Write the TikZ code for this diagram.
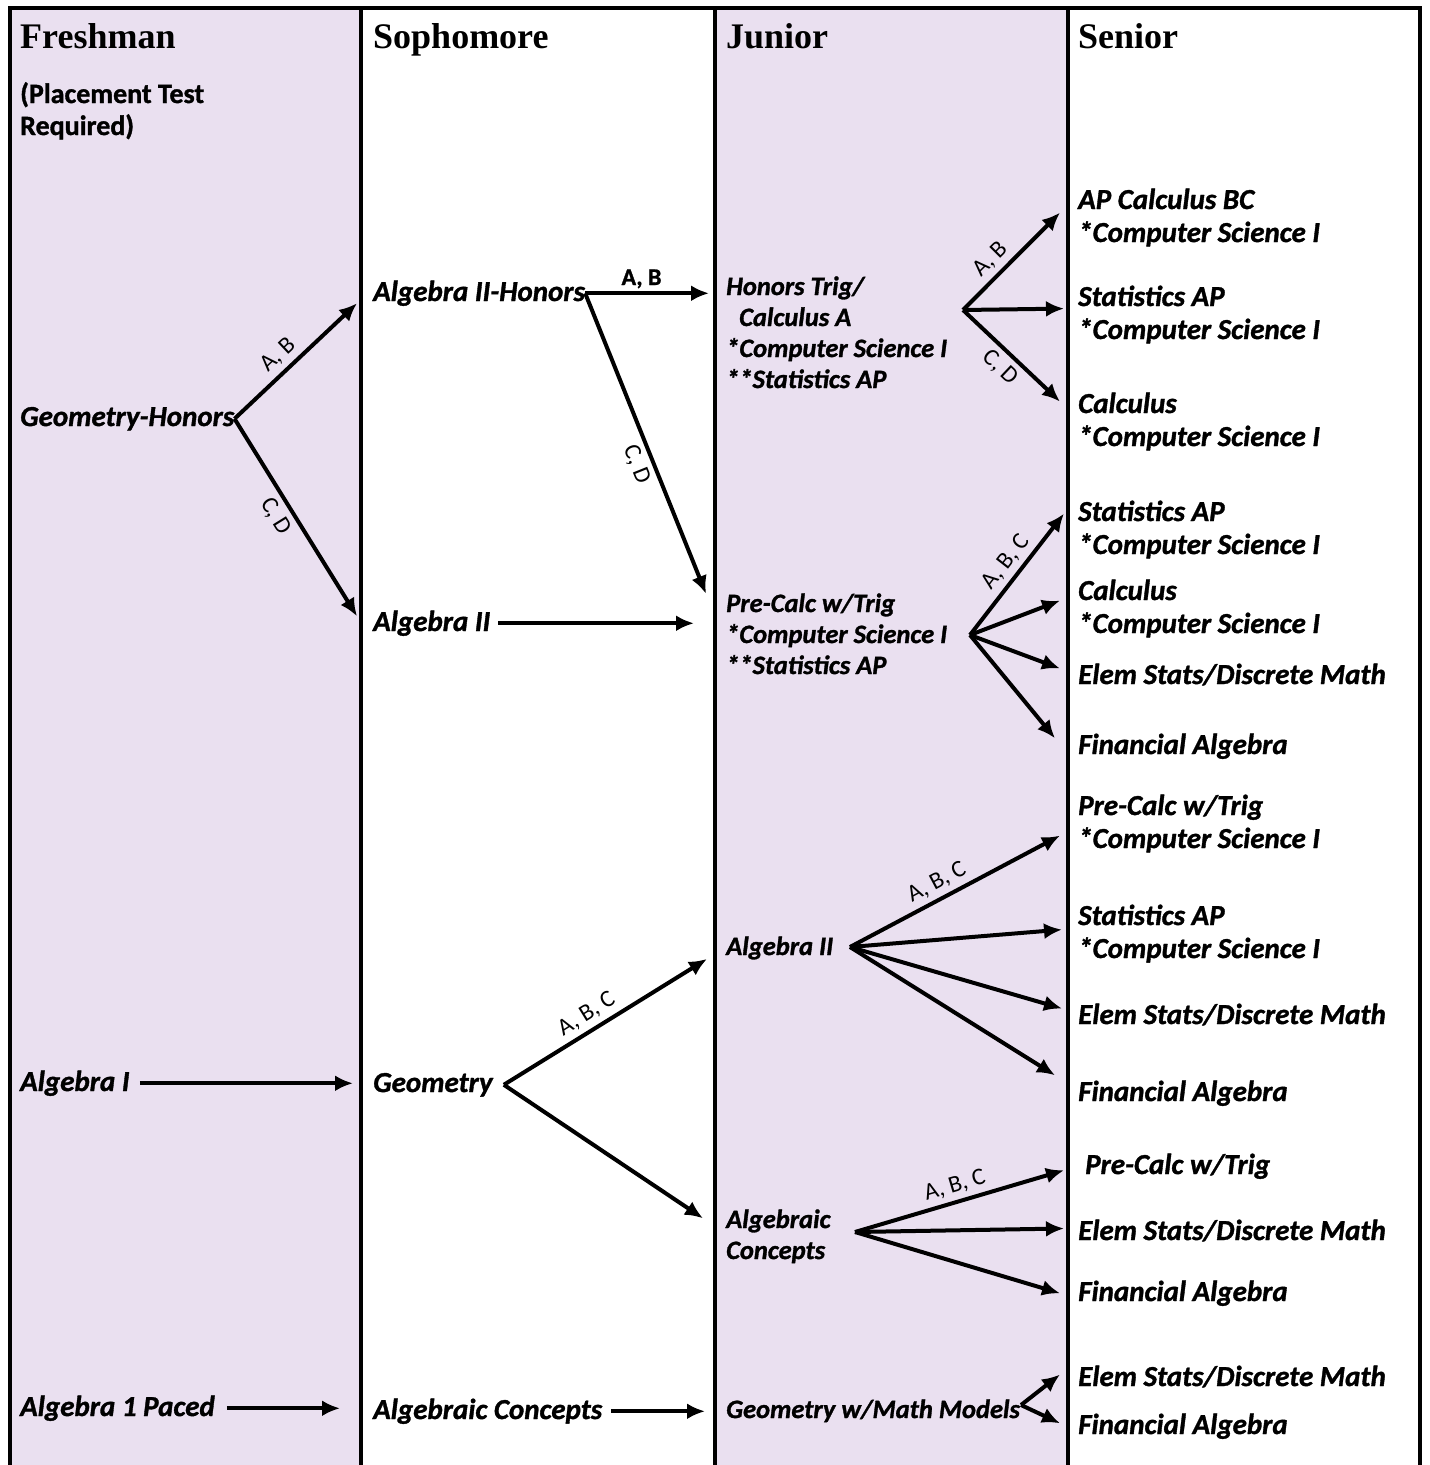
\documentclass[tikz,border=0pt]{standalone}
\usepackage{fontspec}
\setmainfont{Carlito}[BoldFeatures={FakeBold=1.2}, BoldItalicFeatures={FakeBold=1.2}]
\newfontfamily\headfont{Liberation Serif}
\usetikzlibrary{arrows.meta}
\definecolor{lilas}{RGB}{234,224,240}

\begin{document}
\begin{tikzpicture}[x=1pt,y=-1pt]
      \tikzstyle{header}=[anchor=base west, inner sep=0pt, font=\headfont\bfseries\fontsize{36}{40}\selectfont]
      \tikzstyle{course}=[anchor=base west, inner sep=0pt, align=left, font=\bfseries\itshape\fontsize{29}{33}\selectfont]
      \tikzstyle{junior}=[course, font=\bfseries\itshape\fontsize{26.5}{31}\selectfont]
      \tikzstyle{choice}=[font=\fontsize{24}{24}\selectfont, inner sep=5pt]
      \tikzstyle{fleche}=[-{Latex[length=18pt,width=16pt]}, line width=4pt]
      \tikzstyle{column}=[line width=4pt]

      \useasboundingbox (0,0) rectangle (1430,1465);
      \fill[lilas] (10,8) rectangle (361,1465);
      \fill[lilas] (715,8) rectangle (1068,1465);
      \draw[column] (10,1465) -- (10,8) -- (1420,8) -- (1420,1465);
      \draw[column] (361,8) -- (361,1465);
      \draw[column] (715,8) -- (715,1465);
      \draw[column] (1068,8) -- (1068,1465);

      \node[header] (Fresh) at (20,48) {Freshman};
      \node[header] (Soph) at (373,48) {Sophomore};
      \node[header] (Jun) at (726,48) {Junior};
      \node[header] (Sen) at (1078,48) {Senior};
      \node[course, font=\bfseries\fontsize{28}{32}\selectfont] (Place) at (20,135) {(Placement Test\\Required)};

      \node[course] (GeoH) at (20,426) {Geometry-Honors};
      \node[course] (AlgI) at (20,1091) {Algebra I};
      \node[course] (AlgIP) at (20,1416) {Algebra 1 Paced};

      \node[course] (AlgIIH) at (373,301) {Algebra II-Honors};
      \node[course] (AlgII) at (373,631) {Algebra II};
      \node[course] (Geo) at (373,1092) {Geometry};
      \node[course] (AlgC) at (373,1419) {Algebraic Concepts};

      \node[junior] (HTrig) at (726,388) {Honors Trig/\\\hspace*{13pt}Calculus A\\{}*Computer Science I\\{}**Statistics AP};
      \node[junior] (PreC) at (726,674) {Pre-Calc w/Trig\\{}*Computer Science I\\{}**Statistics AP};
      \node[junior] (AlgIIj) at (726,955) {Algebra II};
      \node[junior] (AlgCj) at (726,1259) {Algebraic\\Concepts};
      \node[junior] (GeoMM) at (726,1418) {Geometry w/Math Models};

      \node[course] (Sr1) at (1078,242) {AP Calculus BC\\{}*Computer Science I};
      \node[course] (Sr2) at (1078,339) {Statistics AP\\{}*Computer Science I};
      \node[course] (Sr3) at (1078,446) {Calculus\\{}*Computer Science I};
      \node[course] (Sr4) at (1078,554) {Statistics AP\\{}*Computer Science I};
      \node[course] (Sr5) at (1078,633) {Calculus\\{}*Computer Science I};
      \node[course] (Sr6) at (1078,684) {Elem Stats/Discrete Math};
      \node[course] (Sr7) at (1078,754) {Financial Algebra};
      \node[course] (Sr8) at (1078,848) {Pre-Calc w/Trig\\{}*Computer Science I};
      \node[course] (Sr9) at (1078,958) {Statistics AP\\{}*Computer Science I};
      \node[course] (Sr10) at (1078,1024) {Elem Stats/Discrete Math};
      \node[course] (Sr11) at (1078,1101) {Financial Algebra};
      \node[course] (Sr12) at (1085,1174) {Pre-Calc w/Trig};
      \node[course] (Sr13) at (1078,1240) {Elem Stats/Discrete Math};
      \node[course] (Sr14) at (1078,1301) {Financial Algebra};
      \node[course] (Sr15) at (1078,1386) {Elem Stats/Discrete Math};
      \node[course] (Sr16) at (1078,1434) {Financial Algebra};

      % freshman year
      \draw[fleche] (GeoH.east) -- node[choice, sloped, above, pos=0.45] {A, B} ([xshift=-16pt,yshift=-10pt]AlgIIH.west);
      \draw[fleche] (GeoH.east) -- node[choice, sloped, below, pos=0.45] {C, D} ([xshift=-16pt,yshift=7pt]AlgII.west);
      \draw[fleche, shorten <=10pt, shorten >=20pt] (AlgI.east) -- (AlgI.east -| Geo.west);
      \draw[fleche, shorten <=12pt, shorten >=33pt] (AlgIP.east) -- (AlgIP.east -| AlgC.west);

      % sophomore year
      \draw[fleche, shorten >=17pt] (AlgIIH.east) -- node[choice, above, pos=0.4, inner sep=3pt, font=\bfseries\fontsize{24}{24}\selectfont] {A, B} (AlgIIH.east -| HTrig.west);
      \draw[fleche] (AlgIIH.east) -- node[choice, sloped, below, pos=0.55] {C, D} ([xshift=-20pt,yshift=40pt]PreC.west);
      \draw[fleche, shorten <=8pt, shorten >=32pt] (AlgII.east) -- (AlgII.east -| PreC.west);
      \draw[fleche] ([xshift=11pt]Geo.east) -- node[choice, sloped, above, pos=0.45] {A, B, C} ([xshift=-19pt,yshift=-11pt]AlgIIj.west);
      \draw[fleche] ([xshift=11pt]Geo.east) -- ([xshift=-23pt,yshift=18pt]AlgCj.west);
      \draw[fleche, shorten <=9pt, shorten >=21pt] (AlgC.east) -- (AlgC.east -| GeoMM.west);

      % junior year
      \coordinate (fHT) at (963,310);
      \draw[fleche] (fHT) -- node[choice, sloped, above, pos=0.4] {A, B} ([xshift=-18pt,yshift=5pt]Sr1.west);
      \draw[fleche] (fHT) -- ([xshift=-14pt,yshift=6pt]Sr2.west);
      \draw[fleche] (fHT) -- node[choice, sloped, below, pos=0.5] {C, D} ([xshift=-18pt,yshift=20pt]Sr3.west);

      \coordinate (fPC) at (970,635);
      \draw[fleche] (fPC) -- node[choice, sloped, above, pos=0.52] {A, B, C} ([xshift=-14pt,yshift=16pt]Sr4.west);
      \draw[fleche] (fPC) -- ([xshift=-18pt,yshift=8pt]Sr5.west);
      \draw[fleche] (fPC) -- ([xshift=-18pt,yshift=6pt]Sr6.west);
      \draw[fleche] (fPC) -- ([xshift=-23pt,yshift=8pt]Sr7.west);

      \coordinate (fA2) at (850,947);
      \draw[fleche] (fA2) -- node[choice, sloped, above, pos=0.45] {A, B, C} ([xshift=-18pt,yshift=-12pt]Sr8.west);
      \draw[fleche] (fA2) -- ([xshift=-16pt,yshift=4pt]Sr9.west);
      \draw[fleche] (fA2) -- ([xshift=-16pt,yshift=6pt]Sr10.west);
      \draw[fleche] (fA2) -- ([xshift=-23pt,yshift=18pt]Sr11.west);

      \coordinate (fAC) at (855,1232);
      \draw[fleche] (fAC) -- node[choice, sloped, above, pos=0.5] {A, B, C} ([xshift=-21pt,yshift=-4pt]Sr12.west);
      \draw[fleche] (fAC) -- ([xshift=-14pt,yshift=2pt]Sr13.west);
      \draw[fleche] (fAC) -- ([xshift=-18pt]Sr14.west);

      \coordinate (fGM) at (1021,1405);
      \draw[fleche] (fGM) -- ([xshift=-18pt,yshift=2pt]Sr15.west);
      \draw[fleche] (fGM) -- ([xshift=-18pt,yshift=3pt]Sr16.west);

    \end{tikzpicture}
\end{document}
